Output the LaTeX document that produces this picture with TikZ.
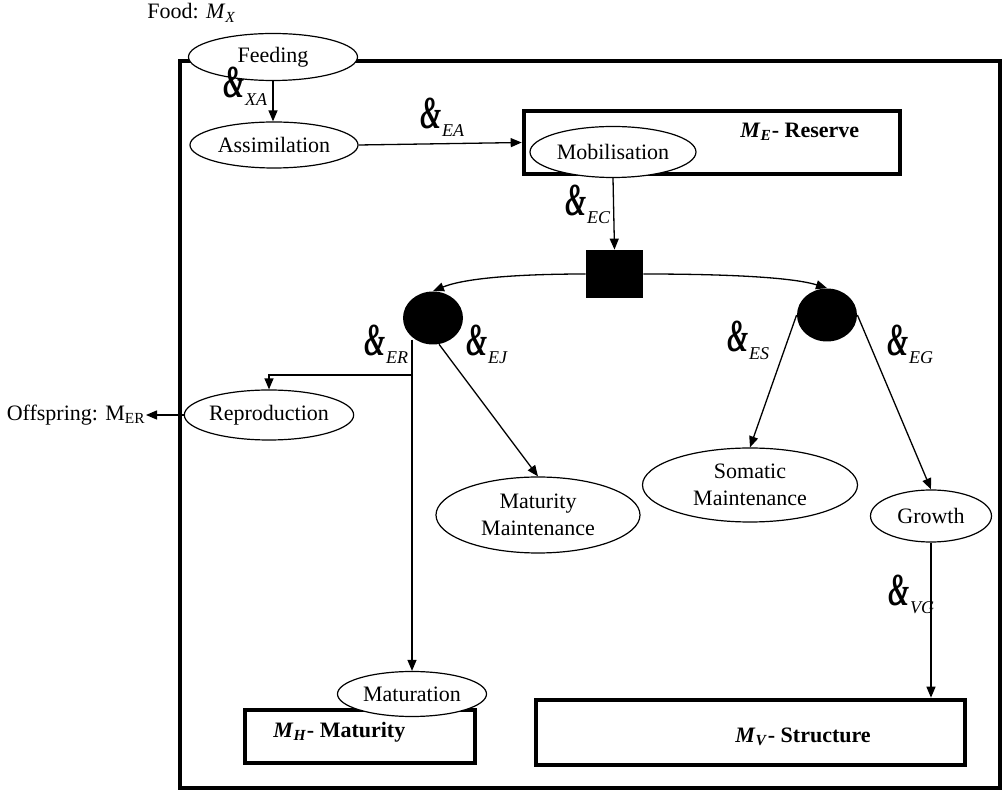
\documentclass[tikz,border=0pt]{standalone}
\usepackage{fontspec}
\setmainfont{Liberation Serif}
\usetikzlibrary{arrows.meta,shapes.geometric}
\newcommand\flx[1]{\scalebox{0.8}[1.35]{\fontsize{17}{17}\selectfont\bfseries\itshape\&}\kern0.3pt\raisebox{-4pt}{\fontsize{9}{9}\selectfont\itshape #1}}
\newcommand\mvar[1]{\textit{M}\textsubscript{\textit{#1}}}
\begin{document}
\begin{tikzpicture}[x=0.5pt,y=-0.5pt,
  every node/.style={font=\fontsize{11}{13.5}\selectfont},
  ell/.style={ellipse,draw,fill=white,inner sep=0pt,line width=0.6pt,align=center},
  bigbox/.style={rectangle,draw,line width=2.3pt,inner sep=0pt},
  dot/.style={ellipse,fill=black,inner sep=0pt,minimum width=30pt,minimum height=26.5pt},
  sqr/.style={rectangle,fill=black,inner sep=0pt,minimum width=28.5pt,minimum height=24pt},
  lbl/.style={inner sep=0pt,anchor=base west},
  txt/.style={inner sep=0pt},
  arr/.style={line width=0.65pt,-{Triangle[length=5.5pt,width=4.5pt]}}]
\useasboundingbox (0,0) rectangle (1003,796);
% boxes
\node[bigbox,minimum width=410pt,minimum height=363.5pt] (outer) at (590,424.5) {};
\node[bigbox,minimum width=188pt,minimum height=31.5pt] (res) at (712,142.5) {};
\node[bigbox,minimum width=115pt,minimum height=26.5pt] (mat) at (360,736.5) {};
\node[bigbox,minimum width=214.5pt,minimum height=32.5pt] (str) at (750.5,732.5) {};
\node[txt,anchor=west] (restxt) at (740,132) {\textbf{\textit{M}\textsubscript{\textit{E}}- Reserve}};
\node[txt,anchor=west] (mattxt) at (273,732) {\textbf{\textit{M}\textsubscript{\textit{H}}- Maturity}};
\node[txt,anchor=west] (strtxt) at (735,737) {\textbf{\textit{M}\textsubscript{\textit{V}}- Structure}};
% ellipses
\node[ell,minimum width=84.5pt,minimum height=23.5pt] (feed) at (273,57) {Feeding};
\node[ell,minimum width=84pt,minimum height=23pt] (assim) at (274,145) {Assimilation};
\node[ell,minimum width=83pt,minimum height=25.5pt] (mob) at (613,152) {Mobilisation};
\node[ell,minimum width=78pt,minimum height=25pt] (repro) at (269,415) {Reproduction};
\node[ell,minimum width=102pt,minimum height=38pt] (mm) at (538,515) {Maturity\\Maintenance};
\node[ell,minimum width=107.5pt,minimum height=37pt] (som) at (750,485) {Somatic\\Maintenance};
\node[ell,minimum width=60.5pt,minimum height=26pt] (grow) at (931,516) {Growth};
\node[ell,minimum width=74.5pt,minimum height=22.5pt] (matur) at (412,694) {Maturation};
% switches
\node[sqr] (sq) at (614.5,274) {};
\node[dot] (lc) at (433,318) {};
\node[dot] (rc) at (827,315) {};
% outside texts
\node[txt,anchor=west] (food) at (147,13) {Food: \mvar{X}};
\node[txt,anchor=east] (off) at (146,415) {Offspring: M\textsubscript{ER}};
% connectors
\draw[arr] (feed.south) -- (feed.south |- assim.north);
\draw[arr] (assim.east) -- (res.west);
\draw[arr] (mob.south) -- (sq.north);
\draw[arr] (sq.west) .. controls (540,274) and (470,276) .. (lc.north);
\draw[arr] (sq.east) .. controls (690,274) and (785,275) .. (rc.north);
\draw[arr] (lc.230 -| matur.north) -- (matur.north);
\coordinate (br) at (412,375);
\draw[arr] (br) -| (repro.north);
\draw[arr] (lc.283) -- (mm.north);
\draw[arr] (rc.west) -- (som.north);
\draw[arr] (rc.east) -- (grow.north);
\draw[arr] (grow.south) -- (grow.south |- str.north);
\draw[arr] (repro.west) -- (off.east);
% flux labels
\node[lbl] (lXA) at (223,98) {\flx{XA}};
\node[lbl] (lEA) at (420,129) {\flx{EA}};
\node[lbl] (lEC) at (565,216) {\flx{EC}};
\node[lbl] (lER) at (364,356) {\flx{ER}};
\node[lbl] (lEJ) at (466,356) {\flx{EJ}};
\node[lbl] (lES) at (727,352) {\flx{ES}};
\node[lbl] (lEG) at (887,356) {\flx{EG}};
\node[lbl] (lVG) at (888,606) {\flx{VG}};
\end{tikzpicture}
\end{document}
